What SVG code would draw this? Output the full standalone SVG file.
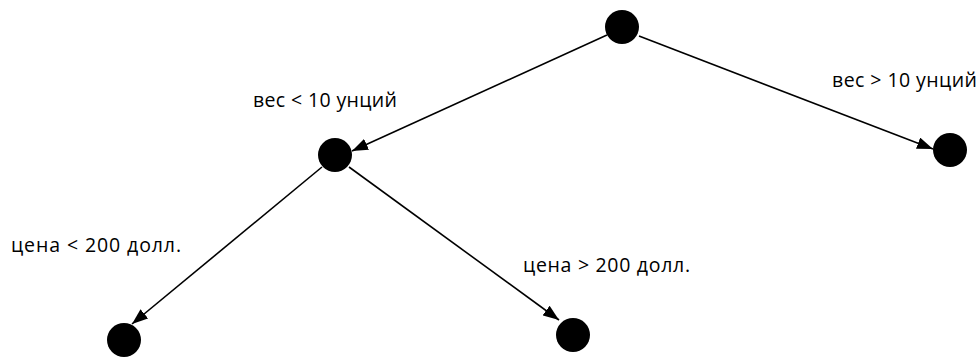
<svg xmlns="http://www.w3.org/2000/svg" width="979" height="357" viewBox="0 0 979 357">
<style>
.n{fill:#000}
.e{stroke:#000;stroke-width:1.6;fill:none;marker-end:url(#ah)}
.t{font-family:"Open Sans","Noto Sans",sans-serif;font-size:19.5px;fill:#000}
</style>
<defs>
<marker id="ah" viewBox="0 0 16 12" refX="16" refY="6" markerWidth="16" markerHeight="12" markerUnits="userSpaceOnUse" orient="auto">
<path d="M0,0 L16,6 L0,12 z" fill="#000"/>
</marker>
</defs>
<rect width="979" height="357" fill="#fff"/>
<g id="edges">
<line class="e" x1="607" y1="35" x2="352" y2="151"/>
<line class="e" x1="639" y1="36" x2="933" y2="149"/>
<line class="e" x1="322" y1="167" x2="132" y2="324"/>
<line class="e" x1="349" y1="167" x2="559" y2="320"/>
</g>
<g id="root"><circle class="n" cx="622" cy="27" r="17"/></g>
<g id="left"><circle class="n" cx="335" cy="155" r="17"/></g>
<g id="right"><circle class="n" cx="950" cy="150" r="17"/></g>
<g id="leftleft"><circle class="n" cx="124" cy="340" r="17"/></g>
<g id="leftright"><circle class="n" cx="573" cy="335" r="17"/></g>
<g id="labels">
<text class="t" x="253" y="107" textLength="144" lengthAdjust="spacing">вес &lt; 10 унций</text>
<text class="t" x="832" y="87" textLength="145" lengthAdjust="spacing">вес &gt; 10 унций</text>
<text class="t" x="11" y="252" textLength="170" lengthAdjust="spacing">цена &lt; 200 долл.</text>
<text class="t" x="523" y="272" textLength="167" lengthAdjust="spacing">цена &gt; 200 долл.</text>
</g>
</svg>
